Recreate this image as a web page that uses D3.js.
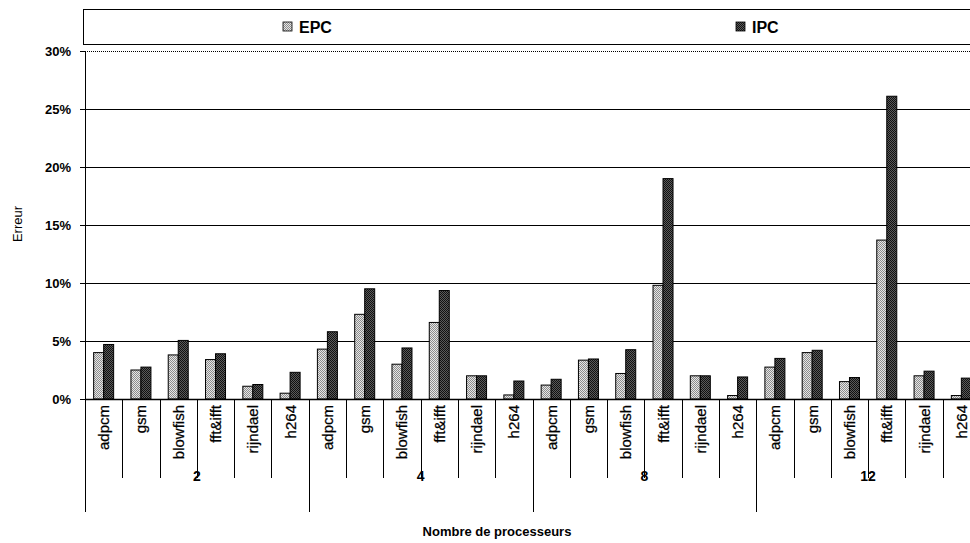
<!DOCTYPE html>
<html><head><meta charset="utf-8">
<script src="https://cdn.jsdelivr.net/npm/d3@7"></script>
<style>body{margin:0;background:#fff}svg{display:block;font-family:"Liberation Sans",Arial,sans-serif}</style>
</head><body><svg id="c" width="970" height="543"></svg>
<script>
const groups = ["2","4","8","12"];
const benchmarks = ["adpcm","gsm","blowfish","fft&ifft","rijndael","h264"];
const seriesNames = ["EPC","IPC"];
const epc = [4.0,2.5,3.8,3.4,1.1,0.5, 4.3,7.3,3.0,6.6,2.0,0.35, 1.2,3.35,2.2,9.8,2.0,0.3, 2.75,4.0,1.5,13.7,2.0,0.3];
const ipc = [4.7,2.75,5.05,3.9,1.25,2.3, 5.8,9.5,4.4,9.35,2.0,1.55, 1.7,3.45,4.25,19.0,2.0,1.9, 3.5,4.2,1.85,26.1,2.4,1.8];
const yTicks = [0,5,10,15,20,25,30];
const yTitle = "Erreur";
const xTitle = "Nombre de processeurs";

(function(){
const svg = d3.select("#c");
const defs = svg.append("defs");
function pat(id, a, b){
  const p = defs.append("pattern").attr("id",id).attr("width",2).attr("height",2).attr("patternUnits","userSpaceOnUse");
  p.append("rect").attr("width",2).attr("height",2).attr("fill",a);
  p.append("rect").attr("width",1).attr("height",1).attr("fill",b);
  p.append("rect").attr("x",1).attr("y",1).attr("width",1).attr("height",1).attr("fill",b);
}
pat("pEPC","#e6e6e6","#8c8c8c");
pat("pIPC","#5a5a5a","#111");
const fills = ["url(#pEPC)","url(#pIPC)"];

const pL = 85, pR = 980, pT = 51, pB = 399;
const cats = [];
groups.forEach(g => benchmarks.forEach(b => cats.push(g + "|" + b)));
const x = d3.scaleBand().domain(cats).range([pL,pR]);
const xs = d3.scaleBand().domain(seriesNames).range([0,20]);
const y = d3.scaleLinear().domain([0,30]).range([pB,pT]);

// legend
svg.append("rect").attr("x",83.5).attr("y",9.5).attr("width",900).attr("height",35).attr("fill","#fff").attr("stroke","#000");
const legX = [283,736];
seriesNames.forEach((s,i)=>{
  svg.append("rect").attr("x",legX[i]).attr("y",22).attr("width",9).attr("height",9).attr("fill",fills[i]).attr("stroke","#000").attr("stroke-width",0.8);
  svg.append("text").attr("x",legX[i]+16).attr("y",32.5).attr("font-size",16).attr("font-weight","bold").text(s);
});

// gridlines
yTicks.forEach(t=>{
  svg.append("line").attr("x1",pL).attr("x2",pR).attr("y1",y(t)+0.5).attr("y2",y(t)+0.5)
    .attr("stroke","#000").attr("stroke-width",t===30?1:1.2).attr("stroke-dasharray",t===30?"1,1":null);
});

// y axis
const ya = svg.append("g").attr("transform",`translate(${pL},0)`)
  .call(d3.axisLeft(y).tickValues(yTicks).tickSize(5).tickPadding(9).tickFormat(d=>d+"%"));
ya.select(".domain").remove();
ya.selectAll("line").attr("stroke","#000");
ya.selectAll("text").attr("font-size",13).attr("font-weight","bold").attr("font-family","Liberation Sans, Arial, sans-serif").attr("fill","#000");
svg.append("line").attr("x1",pL+0.5).attr("x2",pL+0.5).attr("y1",pT).attr("y2",512).attr("stroke","#000");

// bars
const data = [];
cats.forEach((c,i)=>{ data.push({c,s:"EPC",v:epc[i],k:0}); data.push({c,s:"IPC",v:ipc[i],k:1}); });
svg.append("g").selectAll("rect").data(data).join("rect")
  .attr("x",d=>x(d.c)+(x.bandwidth()-20)/2+xs(d.s))
  .attr("y",d=>y(d.v))
  .attr("width",xs.bandwidth())
  .attr("height",d=>pB-y(d.v))
  .attr("fill",d=>fills[d.k]).attr("stroke","#000").attr("stroke-width",1);

// x axis baseline
svg.append("line").attr("x1",pL).attr("x2",pR).attr("y1",pB+0.5).attr("y2",pB+0.5).attr("stroke","#000").attr("stroke-width",1.5);

// category separators & labels
cats.forEach((c,i)=>{
  const x0 = x(c)+x.bandwidth();
  const isGroupEnd = (i+1)%benchmarks.length===0;
  svg.append("line").attr("x1",Math.round(x0)+0.5).attr("x2",Math.round(x0)+0.5).attr("y1",pB).attr("y2",isGroupEnd?512:478).attr("stroke","#000");
  const cx = x(c)+x.bandwidth()/2;
  svg.append("text").attr("transform",`translate(${cx+5.5},405) rotate(-90)`).attr("text-anchor","end")
    .attr("font-size",15).attr("stroke","#000").attr("stroke-width",0.25).text(c.split("|")[1]);
});
groups.forEach((g)=>{
  const x0 = x(g+"|"+benchmarks[0]);
  const x1 = x(g+"|"+benchmarks[benchmarks.length-1])+x.bandwidth();
  svg.append("text").attr("x",(x0+x1)/2).attr("y",481).attr("text-anchor","middle").attr("font-size",14).attr("font-weight","bold").text(g);
});

// titles
svg.append("text").attr("transform","translate(22,224) rotate(-90)").attr("text-anchor","middle").attr("font-size",13).text(yTitle);
svg.append("text").attr("x",497).attr("y",536).attr("text-anchor","middle").attr("font-size",13).attr("font-weight","bold").text(xTitle);
})();
</script></body></html>
